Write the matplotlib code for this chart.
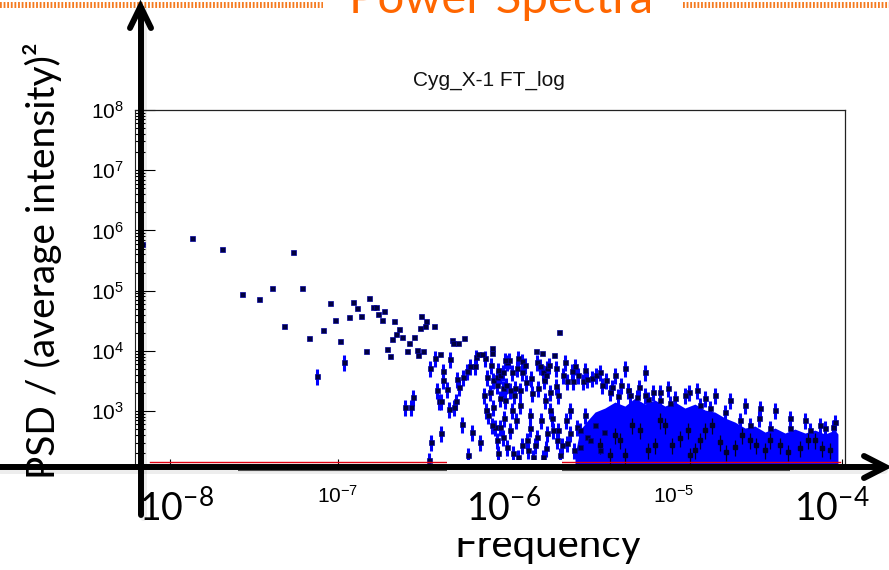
import numpy as np
import matplotlib
matplotlib.use('Agg')
import matplotlib.pyplot as plt
from matplotlib.patches import Rectangle
from matplotlib.lines import Line2D
from matplotlib.ticker import LogLocator, FuncFormatter, NullFormatter

plt.rcParams['mathtext.fontset'] = 'custom'
plt.rcParams['mathtext.sf'] = 'Liberation Sans'
plt.rcParams['mathtext.rm'] = 'Lato'
plt.rcParams['mathtext.it'] = 'Lato:italic'
plt.rcParams['lines.scale_dashes'] = False

# ---------------- data (log10 frequency [Hz], log10 PSD) ----------------
strong_points = [
    (-8.167, 5.774), (-7.869, 5.874), (-7.690, 5.691), (-7.268, 5.641), (-7.571, 4.944),
    (-7.470, 4.860), (-7.393, 5.043), (-7.214, 5.043), (-7.321, 4.412), (-7.170, 4.213),
    (-7.091, 4.346), (-7.048, 4.794), (-7.018, 4.512), (-6.988, 4.163), (-6.933, 4.561),
    (-6.909, 4.811), (-6.885, 4.711), (-6.861, 4.578), (-6.836, 3.997), (-6.818, 4.877),
    (-6.794, 4.728), (-6.776, 4.728), (-6.764, 4.611), (-6.739, 4.512), (-6.727, 4.661),
    (-6.709, 4.030), (-6.691, 3.914), (-6.667, 4.495), (-6.679, 4.196), (-6.655, 4.279),
    (-6.636, 4.362), (-6.618, 4.229), (-6.588, 3.997), (-6.576, 4.130), (-6.545, 4.229),
    (-6.527, 4.013), (-6.521, 3.930), (-6.509, 4.379), (-6.503, 4.578), (-6.491, 3.997),
    (-6.479, 4.412), (-6.473, 4.495), (-6.430, 4.412), (-6.394, 3.947), (-6.321, 4.179),
    (-6.315, 4.130), (-6.286, 4.130), (-6.250, 4.213), (-6.167, 3.947), (-6.143, 3.947),
    (-6.083, 4.047), (-6.083, 3.963), (-5.821, 3.997), (-5.786, 3.963), (-5.714, 3.930),
    (-5.685, 4.312),
]

weak_points = [
    (-7.127, 3.581), (-6.964, 3.814), (-6.455, 3.714), (-6.424, 3.880), (-6.412, 3.349),
    (-6.400, 3.166), (-6.387, 3.166), (-6.375, 3.515), (-6.375, 3.664), (-6.351, 3.365),
    (-6.339, 3.033), (-6.333, 3.864), (-6.310, 3.066), (-6.298, 3.166), (-6.292, 3.532),
    (-6.280, 3.399), (-6.262, 2.784), (-6.256, 3.565), (-6.232, 3.664), (-6.226, 2.269),
    (-6.214, 3.748), (-6.202, 2.651), (-6.185, 3.748), (-6.179, 3.897), (-6.155, 2.485),
    (-6.125, 3.880), (-6.113, 3.565), (-6.107, 2.934), (-6.089, 3.764), (-6.077, 3.515),
    (-6.065, 2.734), (-6.054, 2.518), (-6.048, 2.302), (-6.077, 3.066), (-6.600, 3.066),
    (-6.564, 3.066), (-6.552, 3.233), (-6.448, 2.485), (-6.461, 2.186), (-6.387, 2.635),
    (-6.054, 3.565), (-6.036, 3.598), (-6.018, 3.648), (-5.994, 3.814), (-5.982, 3.847),
    (-6.054, 3.432), (-6.018, 3.382), (-5.976, 3.349), (-5.946, 3.382), (-5.929, 3.880),
    (-5.905, 3.831), (-5.935, 3.714), (-5.905, 3.648), (-5.815, 3.814), (-5.798, 3.748),
    (-5.780, 3.648), (-5.756, 3.714), (-5.744, 3.764), (-5.607, 3.664), (-5.661, 3.598),
    (-5.637, 3.498), (-5.601, 3.498), (-5.571, 3.598), (-5.542, 3.498), (-5.518, 3.532),
    (-5.488, 3.548), (-5.464, 3.598), (-5.429, 3.432), (-5.369, 3.399), (-5.315, 3.432),
    (-5.208, 3.399), (-5.125, 3.316), (-4.911, 3.316), (-5.262, 3.266), (-5.220, 3.233),
    (-5.155, 3.199), (-4.494, 2.884), (-4.054, 2.734),
    (-6.036, 2.734), (-6.018, 2.568), (-5.994, 2.402), (-5.958, 2.302), (-5.929, 2.236),
    (-5.875, 2.518), (-5.869, 2.352), (-5.839, 2.236), (-5.815, 2.568), (-5.780, 2.236),
    (-5.756, 2.635), (-5.720, 2.684), (-5.696, 2.518), (-5.679, 2.269), (-5.637, 2.468),
    (-5.619, 2.635), (-5.577, 2.734), (-5.560, 2.402), (-5.518, 2.568),
    (-6.006, 3.183), (-5.964, 3.017), (-5.917, 3.100), (-5.857, 2.934), (-5.768, 3.183),
    (-5.738, 3.017), (-5.690, 3.266),
    (-5.083, 3.183), (-5.024, 3.133), (-4.845, 3.100), (-4.786, 3.050), (-4.696, 2.983),
    (-4.607, 2.851), (-4.548, 2.767), (-4.429, 2.718), (-4.310, 2.718), (-4.190, 2.684),
    (-4.101, 2.718),
    (-6.131, 3.266), (-6.095, 3.316), (-6.036, 3.216), (-6.000, 3.432), (-5.952, 3.266),
    (-5.917, 3.349), (-5.881, 3.482), (-5.845, 3.299), (-5.810, 3.382), (-5.774, 3.515),
    (-5.738, 3.316), (-5.702, 3.415),
    (-6.119, 3.017), (-6.083, 2.767), (-6.012, 2.884), (-5.976, 2.684), (-5.940, 2.850),
    (-5.905, 2.435), (-5.857, 2.718), (-5.827, 2.435), (-5.792, 2.850), (-5.762, 2.385),
    (-5.726, 2.884), (-5.690, 2.684), (-5.667, 2.435), (-5.643, 2.850), (-5.619, 3.017),
    (-5.595, 2.352), (-5.560, 2.684), (-5.530, 2.934), (-5.500, 2.518), (-5.470, 2.767),
    (-5.440, 2.352), (-5.417, 2.651),
    (-6.048, 3.681), (-6.006, 3.847), (-5.964, 3.648), (-5.887, 3.764), (-5.851, 3.548),
    (-5.762, 3.598), (-5.702, 3.714), (-5.649, 3.814), (-5.589, 3.748), (-5.530, 3.681),
    (-5.440, 3.648), (-5.405, 3.515), (-5.351, 3.598), (-5.292, 3.714), (-5.173, 3.648),
    (-5.381, 3.316), (-5.333, 3.249), (-5.274, 3.349), (-5.173, 3.266), (-5.083, 3.316),
    (-5.036, 3.382), (-4.994, 3.216), (-4.935, 3.266), (-4.863, 3.349), (-4.815, 3.216),
    (-4.756, 3.266), (-4.667, 3.183), (-4.577, 3.100), (-4.488, 3.050), (-4.399, 3.017),
    (-4.310, 2.884), (-4.220, 2.850), (-4.131, 2.767), (-4.042, 2.817),
]

inner_points = [
    (-5.321, 2.518), (-5.202, 2.684), (-5.113, 2.435), (-5.054, 2.767), (-4.964, 2.551),
    (-4.875, 2.352), (-4.815, 2.684), (-4.726, 2.485), (-4.637, 2.402), (-4.548, 2.518),
    (-4.458, 2.352), (-4.369, 2.435), (-4.250, 2.385), (-4.161, 2.518), (-4.071, 2.352),
    (-5.381, 2.269), (-4.905, 2.269),
    (-5.440, 2.435), (-5.351, 2.601), (-5.292, 2.269), (-5.250, 2.767), (-5.155, 2.352),
    (-5.083, 2.850), (-5.012, 2.435), (-4.917, 2.684), (-4.845, 2.518), (-4.774, 2.767),
    (-4.690, 2.319), (-4.595, 2.601), (-4.512, 2.435), (-4.429, 2.518), (-4.321, 2.319),
    (-4.202, 2.518), (-4.119, 2.385),
]

# upper edge of the dense high-frequency band (log10 f, log10 PSD)
band_envelope = [
    (-5.589, 2.269), (-5.560, 2.684), (-5.512, 2.850), (-5.470, 2.983), (-5.411, 3.050),
    (-5.351, 3.150), (-5.292, 3.083), (-5.232, 3.216), (-5.173, 3.116), (-5.113, 3.183),
    (-5.054, 3.083), (-4.994, 3.150), (-4.935, 3.050), (-4.875, 3.116), (-4.815, 3.017),
    (-4.756, 2.983), (-4.696, 2.884), (-4.637, 2.817), (-4.577, 2.718), (-4.518, 2.751),
    (-4.458, 2.651), (-4.399, 2.718), (-4.339, 2.635), (-4.280, 2.701), (-4.220, 2.635),
    (-4.161, 2.684), (-4.101, 2.618), (-4.042, 2.684), (-4.024, 2.618),
]

fit_log_freq = [-8.12, -4.01]
fit_psd = [145, 145]

rel_err = 0.3
xlim_log = (-8.208, -3.982)
ylim = (105, 1e8)

# ---------------- figure ----------------
W, H = 889, 570
fig = plt.figure(figsize=(W / 100, H / 100), dpi=100)
fig.patch.set_facecolor('white')


def fx(x):
    return x / W


def fy(y):
    return 1 - y / H


def fig_line(xs, ys, **kw):
    fig.add_artist(Line2D([fx(x) for x in xs], [fy(y) for y in ys],
                          transform=fig.transFigure, **kw))


def fig_rect(x0, y0, x1, y1, z):
    fig.add_artist(Rectangle((fx(x0), fy(y1)), (x1 - x0) / W, (y1 - y0) / H,
                             transform=fig.transFigure, facecolor='white',
                             edgecolor='none', zorder=z))


ax = fig.add_axes([fx(135), fy(470), (845 - 135) / W, (470 - 110) / H])
ax.set_zorder(2)
ax.set_xscale('log')
ax.set_yscale('log')
ax.set_xlim(10 ** xlim_log[0], 10 ** xlim_log[1])
ax.set_ylim(*ylim)

marker_kw = dict(marker='s', ms=3.6, mfc='#000040', mec='#0000a0', mew=0.5, linestyle='none')

env = np.array(band_envelope)
ax.fill_between(10 ** env[:, 0], 50, 10 ** env[:, 1], color='#0000ff', lw=0, zorder=2)

wk = np.array(weak_points)
wf, wp = 10 ** wk[:, 0], 10 ** wk[:, 1]
ax.errorbar(wf, wp, yerr=rel_err * wp, ecolor='#0000ff', elinewidth=2.2, capsize=0,
            zorder=3, **marker_kw)

inn = np.array(inner_points)
inf_, inp_ = 10 ** inn[:, 0], 10 ** inn[:, 1]
ax.errorbar(inf_, inp_, yerr=rel_err * inp_, ecolor='#000020', elinewidth=0.9, capsize=0,
            marker='s', ms=2.6, mfc='#000030', mec='#000030', linestyle='none', zorder=3)

st = np.array(strong_points)
ax.plot(10 ** st[:, 0], 10 ** st[:, 1], zorder=4, **marker_kw)

ax.plot(10 ** np.array(fit_log_freq), fit_psd, color='#e00010', lw=1.0, zorder=5)

for s in ['top', 'right']:
    ax.spines[s].set_color('#222222')
    ax.spines[s].set_linewidth(0.9)
ax.spines['left'].set_color('#222222')
ax.spines['bottom'].set_color('#555555')

ax.yaxis.set_major_locator(LogLocator(base=10, numticks=20))
ax.yaxis.set_minor_locator(LogLocator(base=10, subs=np.arange(2, 10), numticks=20))
ax.xaxis.set_major_locator(LogLocator(base=10, numticks=20))
ax.xaxis.set_minor_locator(LogLocator(base=10, subs=np.arange(2, 10), numticks=20))
ax.yaxis.set_minor_formatter(NullFormatter())
ax.xaxis.set_minor_formatter(NullFormatter())
ax.yaxis.set_major_formatter(FuncFormatter(
    lambda v, p: r'$\mathsf{10^{%d}}$' % round(np.log10(v))))
ax.xaxis.set_major_formatter(FuncFormatter(
    lambda v, p: r'$\mathsf{10^{%d}}$' % round(np.log10(v))
    if round(np.log10(v)) in (-7, -5) else ''))

ax.tick_params(axis='y', which='major', direction='in', length=14.4, width=0.8,
               pad=8, labelsize=15)
ax.tick_params(axis='y', which='minor', direction='in', length=7.2, width=0.8)
ax.tick_params(axis='x', which='major', direction='in', length=8, width=0.8,
               pad=11, labelsize=15)
ax.tick_params(axis='x', which='minor', direction='in', length=4.3, width=0.8)

fig.text(fx(489), fy(80), 'Cyg_X-1 FT_log', family='Liberation Sans', fontsize=15,
         ha='center', va='center', color='#111111', zorder=4)

# ---------------- slide overlay ----------------
fig.text(fx(548), fy(557), 'Frequency', family='Lato', fontsize=29,
         ha='center', va='baseline', color='black', zorder=0.5)
fig_rect(130, 474, 860, 538, 1)

fig_rect(128, 466, 238, 538, 3)
fig_rect(447, 460, 562, 538, 3)
fig_rect(790, 466, 889, 538, 3)

for cx, lab in [(176, r'$\mathrm{10^{-8}}$'), (504, r'$\mathrm{10^{-6}}$'),
                (832, r'$\mathrm{10^{-4}}$')]:
    fig.text(fx(cx), fy(521), lab, fontsize=27, ha='center', va='baseline',
             color='black', zorder=4)

fig.text(fx(43), fy(261), 'PSD / (average intensity)\u00b2', family='Lato', fontsize=28,
         rotation=90, ha='center', va='center', color='black', zorder=4)

# title and dotted rule
fig.text(fx(501), fy(12.7), 'Power Spectra', family='Lato', fontsize=34,
         color='#ff6600', ha='center', va='baseline', zorder=4)
dot_kw = dict(color='#f47a20', lw=4.3, linestyle=(0, (1.3, 1.3)), dash_capstyle='butt', zorder=2)
fig_line([0, 323], [4.5, 4.5], **dot_kw)
fig_line([683, 889], [4.5, 4.5], **dot_kw)

# arrows with soft shadow
shadow = dict(color=(0, 0, 0, 0.07), lw=5, solid_capstyle='round', zorder=4.5)
fig_line([0, 884], [469.5, 469.5], **shadow)
fig_line([142.5, 142.5], [517, 9], **shadow)
arrow = dict(color='black', lw=4.3, solid_capstyle='round', solid_joinstyle='miter', zorder=5)
fig_line([0, 884], [467, 467], **arrow)
fig_line([864, 885.5, 864], [456, 467, 478], **arrow)
fig_line([140.5, 140.5], [515, 8], **arrow)
fig_line([130, 140.5, 151], [28, 6.5, 28], **arrow)

fig.savefig('out.png', dpi=100, facecolor='white')
